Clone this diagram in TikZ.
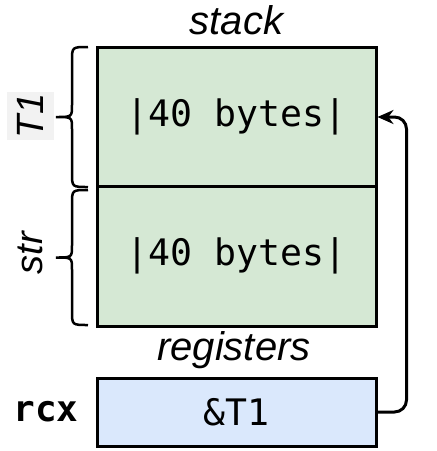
\documentclass[tikz,border=0pt]{standalone}
\usepackage{fontspec}
\setmainfont{Liberation Sans}
\setmonofont{DejaVu Sans Mono}
\usepackage{tikz}
\usetikzlibrary{arrows.meta, positioning}

\definecolor{stackgreen}{HTML}{D5E8D4}
\definecolor{regblue}{HTML}{DAE8FC}

\begin{document}
\begin{tikzpicture}[x=1pt, y=-1pt,
    cell/.style={draw, line width=3pt, minimum width=279pt, minimum height=140pt, inner sep=0pt,
      font=\fontsize{36.5}{40}\selectfont\ttfamily},
    areatitle/.style={font=\fontsize{40}{44}\selectfont\itshape},
    sidename/.style={rotate=90, font=\fontsize{38}{42}\selectfont\itshape},
    brace/.style={line width=2.5pt},
    arrow/.style={-{Stealth[length=16pt, width=14pt]}, line width=3pt, rounded corners=12pt}
  ]
    \useasboundingbox (0,0) rectangle (437,451);

    % Stack cells
    \node[cell, fill=stackgreen] (t1cell) at (236.5,117) {|40 bytes|};
    \node[cell, fill=stackgreen] (strcell) at (236.5,256) {|40 bytes|};

    % Register
    \node[cell, fill=regblue, minimum height=68pt] (rcxcell) at (236.5,412) {\&T1};

    % Titles
    \node[areatitle] (stacktitle) at (236.5,20) {stack};
    \node[areatitle] (regtitle) at (234,350) {registers};
    \node[font=\fontsize{36}{40}\selectfont\ttfamily\bfseries] (rcxname) at (46,412) {rcx};

    % Braces
    \foreach \top/\bot in {47/187, 190/325} {
      \pgfmathsetmacro\mid{(\top+\bot)/2}
      \draw[brace] (88,\top) .. controls (72,\top) .. (72,\top+14) -- (72,\mid-12)
        .. controls (72,\mid) .. (56,\mid) .. controls (72,\mid) .. (72,\mid+12)
        -- (72,\bot-14) .. controls (72,\bot) .. (88,\bot);
    }
    \node[sidename, fill=black!5, minimum width=48pt, minimum height=47pt, inner sep=0pt] (t1name) at (30,116) {T1};
    \node[sidename] (strname) at (30,253) {str};

    % Pointer
    \draw[arrow] (rcxcell.east) -- ++(29,0) |- (t1cell.east);
\end{tikzpicture}
\end{document}
